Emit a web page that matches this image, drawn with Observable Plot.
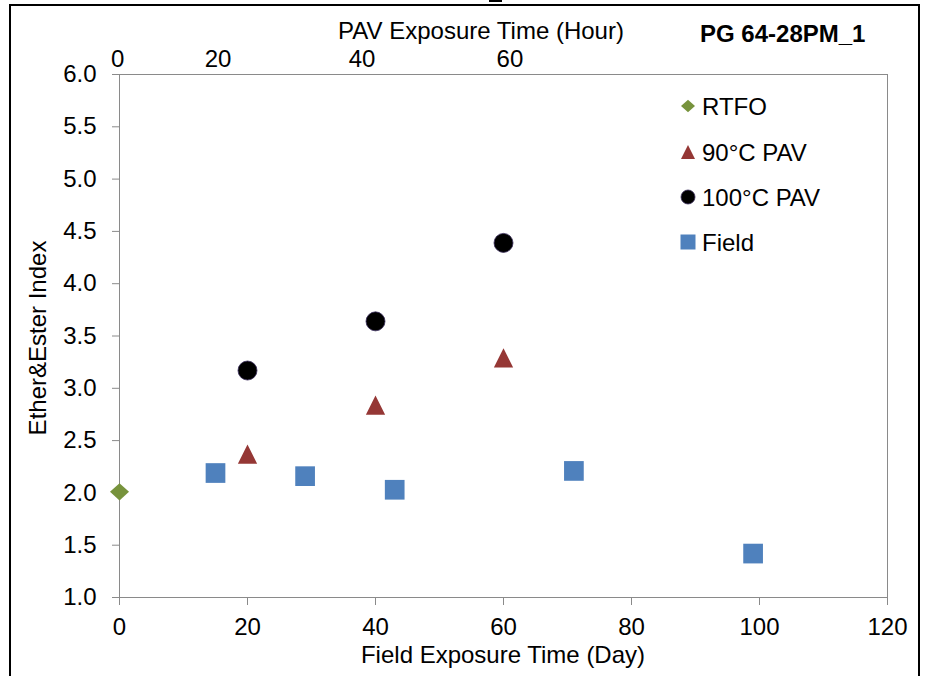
<!DOCTYPE html>
<html>
<head>
<meta charset="utf-8">
<script src="https://cdn.jsdelivr.net/npm/d3@7"></script>
<script src="https://cdn.jsdelivr.net/npm/@observablehq/plot@0.6"></script>
<style>
  body { margin: 0; background: #fff; }
  #wrap { position: relative; width: 928px; height: 676px; overflow: hidden; background: #fff; }
  #border { position: absolute; left: 9px; top: 4px; width: 911px; height: 720px; border: 2.5px solid #000; box-sizing: border-box; pointer-events: none; }
  #chart { position: absolute; left: 0; top: 0; }
  #frag { position: absolute; left: 489px; top: 0; width: 13px; height: 2px; background: #000; }
</style>
</head>
<body>
<div id="wrap"><div id="chart"></div><div id="frag"></div><div id="border"></div></div>
<script>
// ---- data ----
const rtfoDays = [0];
const rtfoValues = [2.01];
const pavHours = [20, 40, 60];
const pav90Values = [2.37, 2.84, 3.29];
const pav100Values = [3.17, 3.64, 4.39];
const fieldDays = [15, 29, 43, 71, 99];
const fieldValues = [2.19, 2.16, 2.03, 2.21, 1.42];
const xTicks = [0, 20, 40, 60, 80, 100, 120];
const yTicks = [1.0, 1.5, 2.0, 2.5, 3.0, 3.5, 4.0, 4.5, 5.0, 5.5, 6.0];
const topTickLabels = ["0", "20", "40", "60"];
const topTickDays = [-0.3, 15.4, 37.9, 61.0];
const seriesNames = ["RTFO", "90°C PAV", "100°C PAV", "Field"];

// ---- styles ----
const colors = { RTFO: "#77933C", "90°C PAV": "#953735", "100°C PAV": "#000000", Field: "#4F81BD" };
const FONT = "'Liberation Sans', Arial, sans-serif";
const axisGray = "#8a8a8a";

// custom symbols (sized by sqrt(area) = side)
const triSym = { draw(ctx, size) { const a = Math.sqrt(size) / 2; ctx.moveTo(0, -a); ctx.lineTo(a, a); ctx.lineTo(-a, a); ctx.closePath(); } };
const diaSym = { draw(ctx, size) { const s = Math.sqrt(size); ctx.moveTo(0, -0.45 * s); ctx.lineTo(0.5 * s, 0); ctx.lineTo(0, 0.45 * s); ctx.lineTo(-0.5 * s, 0); ctx.closePath(); } };

const rtfo = rtfoDays.map((d, i) => ({ x: d, y: rtfoValues[i] }));
const p90 = pavHours.map((d, i) => ({ x: d, y: pav90Values[i] }));
const p100 = pavHours.map((d, i) => ({ x: d, y: pav100Values[i] }));
const field = fieldDays.map((d, i) => ({ x: d, y: fieldValues[i] }));
const topMap = new Map(topTickDays.map((d, i) => [d, topTickLabels[i]]));

const side = s => s / Math.sqrt(Math.PI); // r giving a symbol of side s

const plot = Plot.plot({
  width: 928,
  height: 676,
  marginLeft: 119,
  marginRight: 41,
  marginTop: 74,
  marginBottom: 79,
  style: { fontFamily: FONT, fontSize: "24px", color: "#000", background: "transparent" },
  x: { domain: [0, 120] },
  y: { domain: [1, 6] },
  marks: [
    Plot.frame({ stroke: axisGray }),
    Plot.axisY({ ticks: yTicks, tickFormat: d3.format(".1f"), tickSize: 7, tickPadding: 16, stroke: axisGray, fill: "#000", label: null, fontSize: 24 }),
    Plot.axisX({ anchor: "bottom", ticks: xTicks, tickSize: 8, tickPadding: 12, stroke: axisGray, fill: "#000", label: null, fontSize: 24 }),
    Plot.axisX({ anchor: "top", ticks: topTickDays, tickFormat: d => topMap.get(d), tickSize: 0, tickPadding: 8, fill: "#000", label: null, fontSize: 24 }),
    Plot.dot(field, { x: "x", y: "y", symbol: "square", r: side(19.7), fill: colors.Field, stroke: "none" }),
    Plot.dot(p90, { x: "x", y: "y", symbol: triSym, r: side(19.3), fill: colors["90°C PAV"], stroke: "none" }),
    Plot.dot(p100, { x: "x", y: "y", symbol: "circle", r: 9.5, fill: colors["100°C PAV"], stroke: "#3a2d5c", strokeWidth: 0.8 }),
    Plot.dot(rtfo, { x: "x", y: "y", symbol: diaSym, r: side(19), fill: colors.RTFO, stroke: "none" })
  ]
});
document.getElementById("chart").appendChild(plot);

// ---- titles & legend ----
const svg = d3.select(plot);
const txt = (x, y, s, opts = {}) => svg.append("text")
  .attr("x", x).attr("y", y).attr("text-anchor", opts.anchor || "start")
  .attr("font-family", FONT).attr("font-size", opts.size || 24)
  .attr("font-weight", opts.weight || "normal").attr("fill", "#000")
  .text(s);

txt(481, 39, "PAV Exposure Time (Hour)", { anchor: "middle" });
txt(700, 42, "PG 64-28PM_1", { weight: "bold" });
txt(503, 663, "Field Exposure Time (Day)", { anchor: "middle" });
svg.append("text").attr("transform", "translate(46,338) rotate(-90)")
  .attr("text-anchor", "middle").attr("font-family", FONT).attr("font-size", 24).attr("fill", "#000")
  .text("Ether&Ester Index");

const legendSymbols = [diaSym, triSym, d3.symbolCircle, d3.symbolSquare];
const legendSizes = [14 * 14, 14 * 14, Math.PI * 7 * 7, 15 * 15];
const legendY = [106, 152, 197, 242];
seriesNames.forEach((name, i) => {
  const g = svg.append("g").attr("transform", `translate(688,${legendY[i]})`);
  g.append("path").attr("d", d3.symbol(legendSymbols[i], legendSizes[i])())
    .attr("fill", colors[name]).attr("stroke", name === "100°C PAV" ? "#3a2d5c" : "none").attr("stroke-width", 0.8);
  txt(702, legendY[i] + 8.5, name);
});
</script>
</body>
</html>
